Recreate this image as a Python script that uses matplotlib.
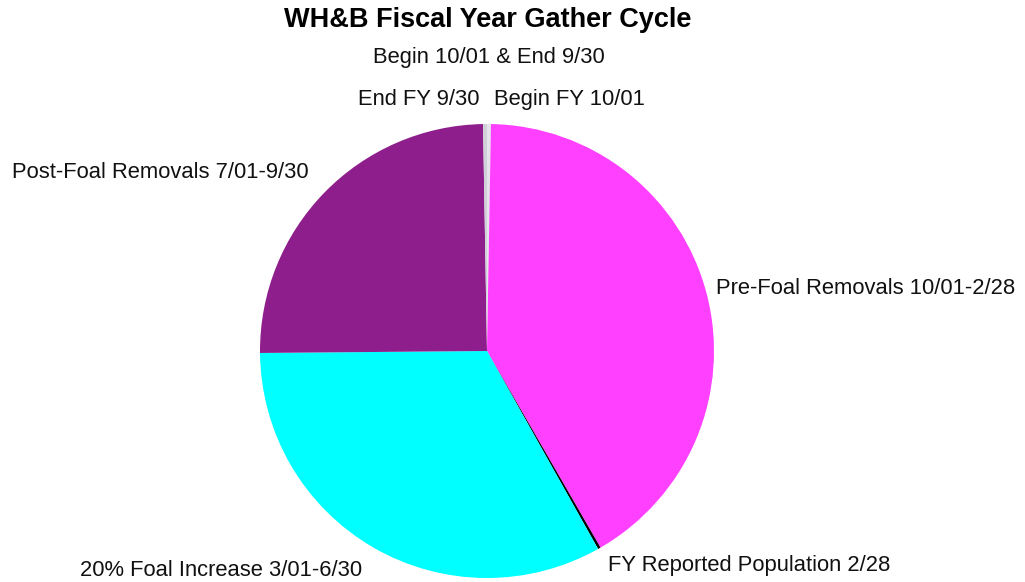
import matplotlib.pyplot as plt

plt.rcParams['font.family'] = ['Liberation Sans', 'DejaVu Sans']

# slices, clockwise from the top
etiquetas = ["Begin FY 10/01", "Pre-Foal Removals 10/01-2/28", "FY Reported Population 2/28",
             "20% Foal Increase 3/01-6/30", "Post-Foal Removals 7/01-9/30", "End FY 9/30"]
valores = [1.0, 149.0, 0.7, 118.8, 89.5, 1.0]
colores = ["#e4e4ea", "#ff40ff", "#000000", "#00ffff", "#8e1e8c", "#d0d0d8"]

W, H = 1025, 582
fig = plt.figure(figsize=(W / 100, H / 100), dpi=100)

cx, cy, r = 487, 351, 227
ax = fig.add_axes([(cx - r) / W, (H - cy - r) / H, 2 * r / W, 2 * r / H])
ax.pie(valores, colors=colores, startangle=90, counterclock=False, radius=1,
       wedgeprops=dict(linewidth=0))
ax.set_xlim(-1, 1)
ax.set_ylim(-1, 1)
ax.set_aspect('equal')
ax.axis('off')

def txt(x, y, s, ha="left", **kw):
    fig.text(x / W, 1 - y / H, s, ha=ha, va="center", fontsize=15.8, color="#111111", **kw)

fig.text(488 / W, 1 - 20 / H, "WH&B Fiscal Year Gather Cycle", ha="center", va="center",
         fontsize=19.5, fontweight="bold")
txt(489, 58, "Begin 10/01 & End 9/30", ha="center")

# posiciones de las etiquetas
txt(494, 99, etiquetas[0])
txt(716, 288, etiquetas[1])
txt(608, 566, etiquetas[2])
txt(80, 570, etiquetas[3])
txt(12, 172, etiquetas[4])
txt(480, 99, etiquetas[5], ha="right")

fig.savefig("out.png", dpi=100)
